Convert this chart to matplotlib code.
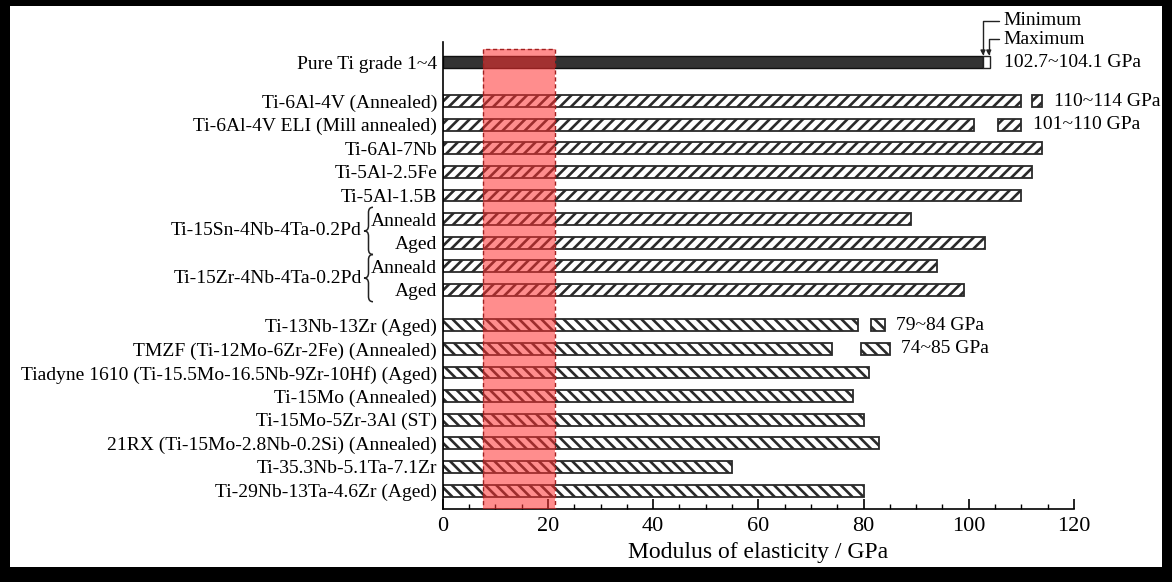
import matplotlib.pyplot as plt
from matplotlib.patches import Rectangle, PathPatch
from matplotlib.path import Path
from matplotlib.transforms import blended_transform_factory

plt.rcParams['font.family'] = ['Liberation Serif', 'DejaVu Serif']
plt.rcParams['hatch.linewidth'] = 1.9

# Pure Ti (range bar on top)
pure_label = 'Pure Ti grade 1~4'
pure_min, pure_max = 102.7, 104.1

# alpha / alpha+beta alloys
alpha_labels = ['Ti-6Al-4V (Annealed)', 'Ti-6Al-4V ELI (Mill annealed)', 'Ti-6Al-7Nb',
                'Ti-5Al-2.5Fe', 'Ti-5Al-1.5B', 'Anneald', 'Aged', 'Anneald', 'Aged']
alpha_values = [110, 101, 114, 112, 110, 89, 103, 94, 99]

# beta alloys
beta_labels = ['Ti-13Nb-13Zr (Aged)', 'TMZF (Ti-12Mo-6Zr-2Fe) (Annealed)',
               'Tiadyne 1610 (Ti-15.5Mo-16.5Nb-9Zr-10Hf) (Aged)', 'Ti-15Mo (Annealed)',
               'Ti-15Mo-5Zr-3Al (ST)', '21RX (Ti-15Mo-2.8Nb-0.2Si) (Annealed)',
               'Ti-35.3Nb-5.1Ta-7.1Zr', 'Ti-29Nb-13Ta-4.6Zr (Aged)']
beta_values = [79, 74, 81, 78, 80, 83, 55, 80]

# alloys given as a range (min is the bar, max is shown by the small box)
range_labels = ['Ti-6Al-4V (Annealed)', 'Ti-6Al-4V ELI (Mill annealed)',
                'Ti-13Nb-13Zr (Aged)', 'TMZF (Ti-12Mo-6Zr-2Fe) (Annealed)']
range_min = [110, 101, 79, 74]
range_max = [114, 110, 84, 85]

group_names = ['Ti-15Sn-4Nb-4Ta-0.2Pd', 'Ti-15Zr-4Nb-4Ta-0.2Pd']
group_rows = [(5, 6), (7, 8)]  # index in alpha list

# bone modulus band
bone_low, bone_high = 7.6, 21.4

# row positions
pure_y = 0
alpha_y = [1.65 + i for i in range(len(alpha_labels))]
beta_y = [11.15 + i for i in range(len(beta_labels))]
bar_h = 0.5

fig = plt.figure(figsize=(11.72, 5.82), dpi=100)
ax = fig.add_axes([0.3777, 0.1254, 0.5387, 0.8024])

ax.barh(pure_y, pure_min, height=bar_h, color='#333333', edgecolor='#111111', lw=1)
ax.barh(pure_y, pure_max - pure_min, left=pure_min, height=bar_h,
        color='white', edgecolor='#222222', lw=1)
ax.barh(alpha_y, alpha_values, height=bar_h, color='white', edgecolor='#2a2a2a',
        lw=1.3, hatch='///')
ax.barh(beta_y, beta_values, height=bar_h, color='white', edgecolor='#2a2a2a',
        lw=1.3, hatch='\\\\\\')

# small range boxes: from mid of range to max
all_labels = alpha_labels + beta_labels
all_y = alpha_y + beta_y
for lab, lo, hi in zip(range_labels, range_min, range_max):
    y = all_y[all_labels.index(lab)]
    mid = (lo + hi) / 2
    hatch = '///' if lab in alpha_labels else '\\\\\\'
    ax.barh(y, hi - mid, left=mid, height=bar_h, color='white',
            edgecolor='#2a2a2a', lw=1.3, hatch=hatch)
    ax.annotate(f'{lo}~{hi} GPa', (hi, y), xytext=(8, 0), textcoords='offset points',
                va='center', ha='left', fontsize=14)

ax.annotate(f'{pure_min}~{pure_max} GPa', (pure_max, pure_y), xytext=(10, 0),
            textcoords='offset points', va='center', ha='left', fontsize=14)

# Minimum / Maximum pointers
for txt, xv, dy in [('Minimum', pure_min, -1.76), ('Maximum', pure_max - 0.3, -0.96)]:
    ax.annotate(txt, xy=(xv, -0.28), xytext=(pure_max + 2.5, dy), fontsize=14,
                va='center', ha='left', annotation_clip=False,
                arrowprops=dict(arrowstyle='-|>', lw=1, color='#222222',
                                mutation_scale=7, shrinkA=1, shrinkB=0,
                                connectionstyle='angle,angleA=180,angleB=90,rad=0'))

# bone band
ax.add_patch(Rectangle((bone_low, 18.93), bone_high - bone_low, -18.93 - 0.55,
                       facecolor='#ff3030', alpha=0.55, edgecolor='none', zorder=3))
ax.add_patch(Rectangle((bone_low, 18.93), bone_high - bone_low, -18.93 - 0.55,
                       facecolor='none', edgecolor='#a02020', ls=(0, (3, 2)),
                       lw=1, zorder=3))

# axes
ax.set_xlim(0, 120)
ax.set_ylim(18.93, -0.85)
ax.spines['top'].set_visible(False)
ax.spines['right'].set_visible(False)
ax.spines['left'].set_linewidth(1.2)
ax.spines['bottom'].set_linewidth(1.2)
ax.set_xticks(range(0, 121, 20))
ax.set_xticks(range(0, 121, 5), minor=True)
ax.tick_params(axis='x', which='major', direction='in', length=7, width=1.2,
               labelsize=16, pad=6)
ax.tick_params(axis='x', which='minor', direction='in', length=3.5, width=1)
ax.set_yticks([pure_y] + alpha_y + beta_y)
ax.set_yticklabels([pure_label] + alpha_labels + beta_labels, fontsize=14)
ax.tick_params(axis='y', length=0, pad=4)
ax.set_xlabel('Modulus of elasticity / GPa', fontsize=17, labelpad=4)

# group names with braces
tr = blended_transform_factory(fig.transFigure, ax.transData)
x0, x1 = 364 / 1172, 373 / 1172
for name, (a, b) in zip(group_names, group_rows):
    yt, yb = alpha_y[a] - 0.5, alpha_y[b] + 0.5
    ym = (yt + yb) / 2
    xc = (x0 + x1) / 2
    r = 0.22
    verts = [(x1, yt), (xc, yt), (xc, yt + r), (xc, ym - r), (xc, ym), (x0, ym),
             (xc, ym), (xc, ym + r), (xc, yb - r), (xc, yb), (x1, yb)]
    codes = [Path.MOVETO, Path.CURVE3, Path.CURVE3, Path.LINETO, Path.CURVE3, Path.CURVE3,
             Path.CURVE3, Path.CURVE3, Path.LINETO, Path.CURVE3, Path.CURVE3]
    ax.add_patch(PathPatch(Path(verts, codes), transform=tr, fill=False, lw=1.1,
                           edgecolor='#222222', clip_on=False))
    ax.text(362 / 1172, ym, name, transform=tr, ha='right', va='center', fontsize=14)

# black frame around the picture (top, bottom, left, right in pixels)
W, H = 1172, 582
for (x, y, w, h) in [(0, H - 6, W, 6), (0, 0, W, 15), (0, 0, 10, H), (W - 10, 0, 10, H)]:
    fig.patches.append(Rectangle((x / W, y / H), w / W, h / H, transform=fig.transFigure,
                                 facecolor='black', edgecolor='none'))

fig.savefig('out.png', dpi=100)
